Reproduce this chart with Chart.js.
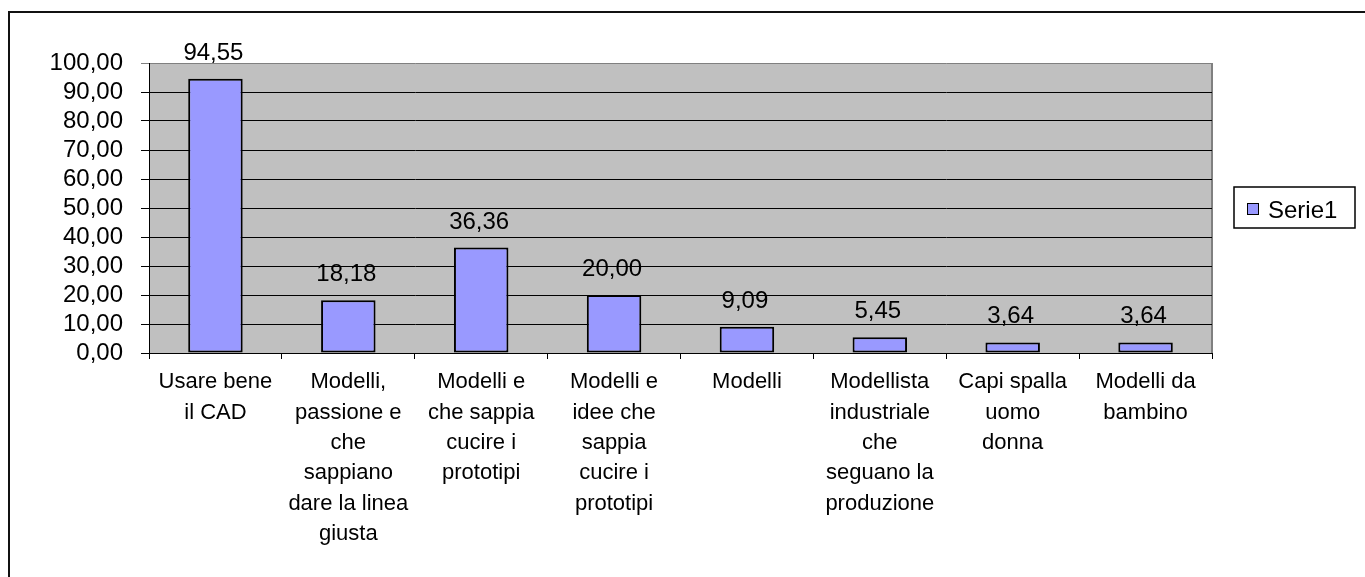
<!DOCTYPE html>
<html>
<head>
<meta charset="utf-8">
<script src="https://cdn.jsdelivr.net/npm/chart.js@4"></script>
<style>
  html, body { margin: 0; padding: 0; background: #fff; overflow: hidden; }
  #wrap { position: absolute; left: 0; top: 0; width: 1365px; height: 577px; }
  #frame {
    position: absolute; left: 8px; top: 11px; width: 1400px; height: 600px;
    border-left: 2px solid #111; border-top: 2px solid #111; pointer-events: none;
  }
</style>
</head>
<body>
<div id="wrap"><canvas id="chart"></canvas></div>
<div id="frame"></div>
<script>
// ---------------------------------------------------------------------------
// Data
// ---------------------------------------------------------------------------
const categories = [
  ['Usare bene', 'il CAD'],
  ['Modelli,', 'passione e', 'che', 'sappiano', 'dare la linea', 'giusta'],
  ['Modelli e', 'che sappia', 'cucire i', 'prototipi'],
  ['Modelli e', 'idee che', 'sappia', 'cucire i', 'prototipi'],
  ['Modelli'],
  ['Modellista', 'industriale', 'che', 'seguano la', 'produzione'],
  ['Capi spalla', 'uomo', 'donna'],
  ['Modelli da', 'bambino'],
];
const serie1 = [94.55, 18.18, 36.36, 20.00, 9.09, 5.45, 3.64, 3.64];
const seriesLabel = 'Serie1';

const FONT = '"Liberation Sans", Arial, sans-serif';
const fmt = (v) => v.toFixed(2).replace('.', ',');

// grey plot background + plot border
const plotBackground = {
  id: 'plotBackground',
  beforeDraw(chart) {
    const { ctx, chartArea: a } = chart;
    ctx.save();
    ctx.fillStyle = '#c0c0c0';
    ctx.fillRect(a.left, a.top, a.right - a.left, a.bottom - a.top);
    ctx.strokeStyle = '#808080';
    ctx.lineWidth = 2;
    ctx.beginPath();
    ctx.moveTo(a.right, a.top);
    ctx.lineTo(a.right, a.bottom);
    ctx.stroke();
    ctx.restore();
  },
};

// value labels above each bar
const valueLabels = {
  id: 'valueLabels',
  afterDatasetsDraw(chart) {
    const { ctx } = chart;
    const meta = chart.getDatasetMeta(0);
    ctx.save();
    ctx.font = '24px ' + FONT;
    ctx.fillStyle = '#000';
    ctx.textAlign = 'center';
    ctx.textBaseline = 'alphabetic';
    meta.data.forEach((bar, i) => {
      ctx.fillText(fmt(serie1[i]), bar.x - 2, bar.y - 19);
    });
    ctx.restore();
  },
};

// boxed legend on the right, like the old Excel chart
const boxLegend = {
  id: 'boxLegend',
  afterDraw(chart) {
    const { ctx, chartArea: a } = chart;
    const left = a.right + 22, top = 187;
    ctx.save();
    ctx.fillStyle = '#fff';
    ctx.strokeStyle = '#000';
    ctx.lineWidth = 1.5;
    ctx.fillRect(left, top, 121, 41);
    ctx.strokeRect(left, top, 121, 41);
    ctx.fillStyle = chart.data.datasets[0].backgroundColor;
    ctx.fillRect(left + 13, top + 16, 11, 11);
    ctx.lineWidth = 1;
    ctx.strokeRect(left + 13.5, top + 16.5, 11, 11);
    ctx.fillStyle = '#000';
    ctx.font = '24px ' + FONT;
    ctx.textAlign = 'left';
    ctx.textBaseline = 'alphabetic';
    ctx.fillText(chart.data.datasets[0].label, left + 34, top + 31);
    ctx.restore();
  },
};

new Chart(document.getElementById('chart'), {
  type: 'bar',
  data: {
    labels: categories,
    datasets: [{
      label: seriesLabel,
      data: serie1,
      backgroundColor: '#9999ff',
      borderColor: '#000',
      borderWidth: 2,
      borderSkipped: false,
      categoryPercentage: 1,
      barPercentage: 0.41,
    }],
  },
  options: {
    responsive: true,
    maintainAspectRatio: false,
    animation: false,
    layout: { padding: { left: 0, top: 63, right: 153, bottom: 0 } },
    plugins: {
      legend: { display: false },
      tooltip: { enabled: false },
    },
    scales: {
      x: {
        offset: true,
        grid: {
          offset: true,
          drawOnChartArea: false,
          drawTicks: true,
          tickLength: 6,
          color: '#000',
        },
        border: { display: true, color: '#000', width: 1 },
        ticks: {
          color: '#000',
          font: { family: FONT, size: 22, lineHeight: 1.38 },
          padding: 8,
          maxRotation: 0,
          autoSkip: false,
        },
        afterFit(scale) { scale.height = 224; },
      },
      y: {
        min: 0,
        max: 100,
        grid: {
          color: (c) => (c.tick && c.tick.value === 100 ? '#808080' : '#000'),
          lineWidth: 1,
          drawTicks: true,
          tickLength: 8,
        },
        border: { display: true, color: '#000', width: 1 },
        ticks: {
          stepSize: 10,
          autoSkip: false,
          color: '#000',
          font: { family: FONT, size: 24 },
          padding: 18,
          callback: (v) => fmt(v),
        },
        afterFit(scale) { scale.width = 149; },
      },
    },
  },
  plugins: [plotBackground, valueLabels, boxLegend],
});
</script>
</body>
</html>
